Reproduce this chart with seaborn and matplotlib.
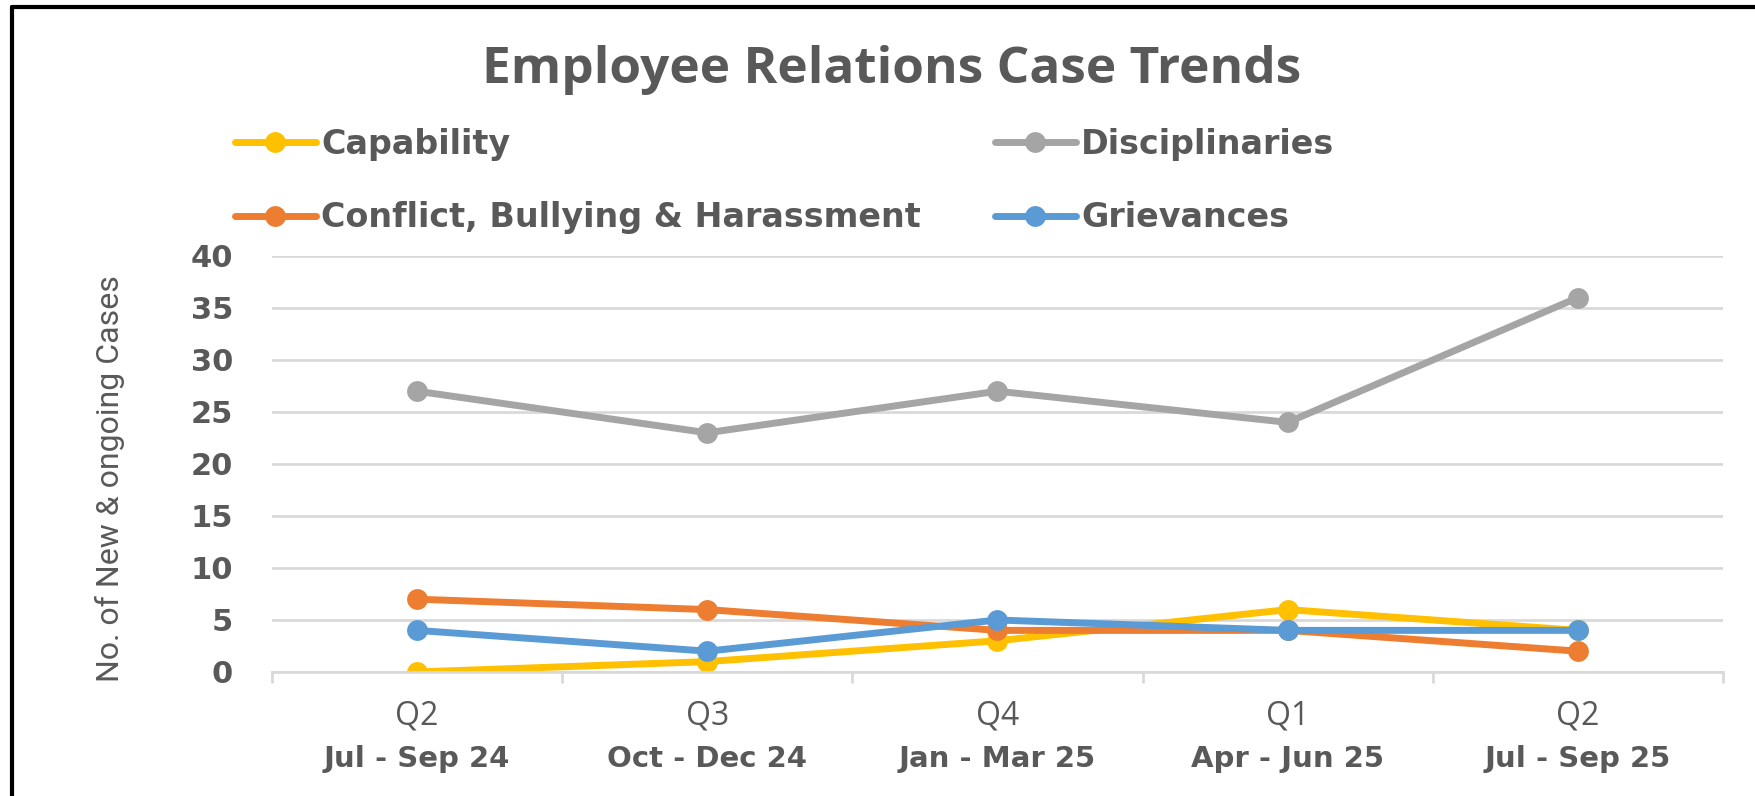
import pandas as pd
import seaborn as sns
import matplotlib.pyplot as plt
from matplotlib.lines import Line2D
from matplotlib.ticker import FixedLocator

quarters = ['Q2', 'Q3', 'Q4', 'Q1', 'Q2 ']
periods = ['Jul - Sep 24', 'Oct - Dec 24', 'Jan - Mar 25', 'Apr - Jun 25', 'Jul - Sep 25']
capability = [0, 1, 3, 6, 4]
disciplinaries = [27, 23, 27, 24, 36]
conflict = [7, 6, 4, 4, 2]
grievances = [4, 2, 5, 4, 4]

series = ['Capability', 'Disciplinaries', 'Conflict, Bullying & Harassment', 'Grievances']
colors = {'Capability': '#FFC000', 'Disciplinaries': '#A5A5A5',
          'Conflict, Bullying & Harassment': '#ED7D31', 'Grievances': '#5B9BD5'}

rows = []
for name, vals in zip(series, [capability, disciplinaries, conflict, grievances]):
    for q, v in zip(quarters, vals):
        rows.append({'quarter': q, 'cases': v, 'series': name})
df = pd.DataFrame(rows)

sns.set_style('white')
txt = '#595959'

fig = plt.figure(figsize=(17.56, 7.96), dpi=100)
ax = fig.add_axes([0.1549, 0.1558, 0.8263, 0.5226])

sns.lineplot(data=df, x='quarter', y='cases', hue='series', hue_order=series,
             palette=colors, marker='o', markersize=15, markeredgewidth=0,
             linewidth=5, sort=False, legend=False, ax=ax)

ax.set_xlim(-0.5, 4.5)
ax.set_ylim(0, 40)
ax.set_yticks(range(0, 41, 5))
ax.yaxis.grid(True, color='#D9D9D9', linewidth=2)
ax.xaxis.grid(False)
for s in ['top', 'right', 'left']:
    ax.spines[s].set_visible(False)
ax.spines['bottom'].set_color('#D9D9D9')
ax.spines['bottom'].set_linewidth(2)

ax.tick_params(axis='y', length=0, pad=28, labelsize=22, labelcolor=txt)
for t in ax.get_yticklabels():
    t.set_fontweight('bold')
    t.set_fontfamily('DejaVu Sans')

ax.set_xticks(range(len(quarters)))
ax.xaxis.set_minor_locator(FixedLocator([i - 0.5 for i in range(6)]))
ax.tick_params(axis='x', which='major', bottom=False, length=0, pad=20)
ax.tick_params(axis='x', which='minor', bottom=True, length=8, width=2,
               color='#D9D9D9')
ax.set_xticklabels([q.strip() for q in quarters], fontsize=23, color=txt,
                   family='Open Sans')
# second line of each category label (period), bolder as in the original
for i, p in enumerate(periods):
    ax.text(i, -0.209, p, transform=ax.get_xaxis_transform(), ha='center',
            va='center', fontsize=21, fontweight='bold', color=txt,
            family='DejaVu Sans')
ax.set_xlabel('')
ax.set_ylabel('No. of New & ongoing Cases', fontsize=23, color=txt, family='Roboto')
ax.yaxis.set_label_coords(-0.101, 0.466)

fig.text(0.5076, 0.912, 'Employee Relations Case Trends', ha='center', va='center',
         fontsize=37, fontweight='bold', color=txt, family='Open Sans')

lines = ax.get_lines()[:4]
leg_kw = dict(loc='center left', frameon=False, handlelength=2.43, handletextpad=0.15,
              labelspacing=1.22, borderaxespad=0, borderpad=0, labelcolor=txt,
              prop={'family': 'DejaVu Sans', 'size': 24, 'weight': 'bold'})
fig.legend([lines[0], lines[2]], [series[0], series[2]],
           bbox_to_anchor=(0.1338, 0.7728), **leg_kw)
fig.legend([lines[1], lines[3]], [series[1], series[3]],
           bbox_to_anchor=(0.5666, 0.7728), **leg_kw)

# chart frame (left and top edges)
fig.add_artist(Line2D([0.0068, 0.0068], [0, 0.991], color='black', linewidth=3,
                      transform=fig.transFigure))
fig.add_artist(Line2D([0.0068, 1.0], [0.991, 0.991], color='black', linewidth=3,
                      transform=fig.transFigure))

fig.savefig('out.png', dpi=100)
